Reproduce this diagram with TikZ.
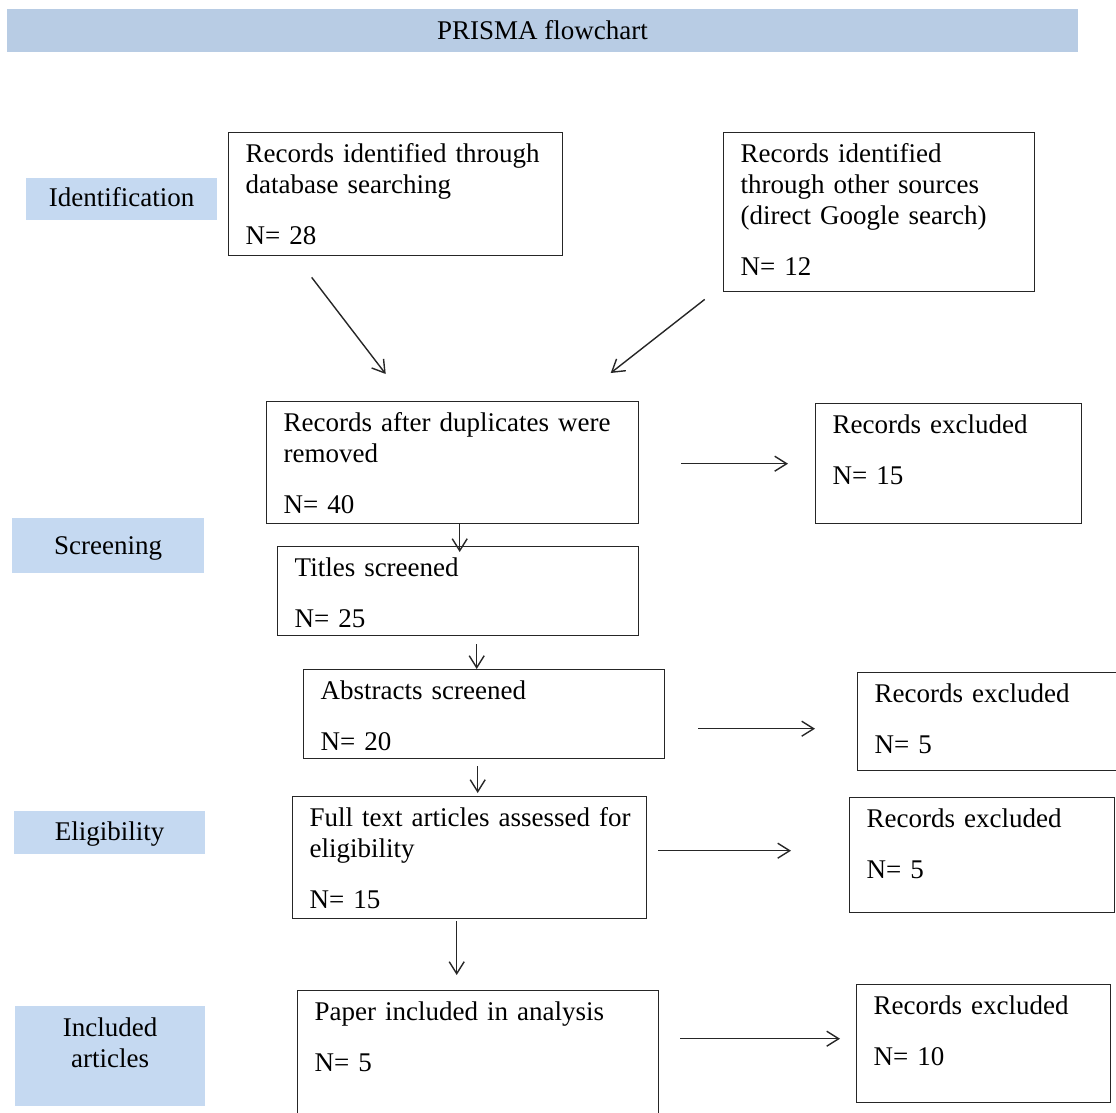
\documentclass[tikz,border=0pt]{standalone}
\usepackage{fontspec}
\setmainfont{Liberation Serif}
\usetikzlibrary{arrows.meta,calc}
\definecolor{titleblue}{RGB}{184,204,228}
\definecolor{stageblue}{RGB}{197,217,241}

\begin{document}
\begin{tikzpicture}[x=1pt, y=-1pt, >={Straight Barb[length=12pt,width=15pt]},
        every node/.style={font=\fontsize{27pt}{31pt}\selectfont},
        box/.style={draw=black!85, line width=1.4pt, anchor=north west, align=left, inner xsep=17pt, inner ysep=0pt, text height=30pt},
        stage/.style={fill=stageblue, anchor=north west, align=center, inner sep=0pt},
        arr/.style={->, line width=1.4pt, draw=black!85}]
        \useasboundingbox (0,0) rectangle (1116,1113);
        % title bar
        \node[fill=titleblue, minimum width=1071pt, minimum height=43pt, inner sep=0pt] (title) at (542.5,30.5) {PRISMA flowchart};
        % stages on the left
        \node[stage, text width=191pt, text height=28pt, text depth=14pt] (ident) at (26,178) {Identification};
        \node[stage, text width=192pt, text height=36pt, text depth=19pt] (screen) at (12,518) {Screening};
        \node[stage, text width=191pt, text height=29pt, text depth=14pt] (elig) at (14,811) {Eligibility};
        \node[stage, text width=190pt, text height=30pt, text depth=70pt] (incl) at (15,1006) {Included\\articles};
        % boxes
        \node[box, text width=300pt, text depth=93pt] (dbsearch) at (228,132) {Records identified through\\database searching\\[20pt]N= 28};
        \node[box, text width=277pt, text depth=129pt] (other) at (723,132) {Records identified\\through other sources\\(direct Google search)\\[20pt]N= 12};
        \node[box, text width=338pt, text depth=92pt] (dedup) at (266,401) {Records after duplicates were\\removed\\[20pt]N= 40};
        \node[box, text width=232pt, text depth=90pt] (excl1) at (815,403) {Records excluded\\[20pt]N= 15};
        \node[box, text width=327pt, text depth=59pt] (titles) at (277,546) {Titles screened\\[20pt]N= 25};
        \node[box, text width=327pt, text depth=59pt] (abstr) at (303,669) {Abstracts screened\\[20pt]N= 20};
        \node[box, text width=246pt, text depth=68pt] (excl2) at (857,672) {Records excluded\\[20pt]N= 5};
        \node[box, text width=320pt, text depth=92pt] (fulltext) at (292,796) {\mbox{Full text articles assessed for}\\eligibility\\[20pt]N= 15};
        \node[box, text width=231pt, text depth=85pt] (excl3) at (849,797) {Records excluded\\[20pt]N= 5};
        \node[box, text width=327pt, text depth=110pt] (included) at (297,990) {Paper included in analysis\\[20pt]N= 5};
        \node[box, text width=220pt, text depth=88pt] (excl4) at (856,984) {Records excluded\\[20pt]N= 10};
        % arrows
        \draw[arr] ($(dbsearch.south)+(-84,21)$) -- ($(dedup.north)+(-67,-27)$);
        \draw[arr] ($(other.south)+(-174.5,7)$) -- ($(dedup.north)+(158,-28)$);
        \draw[arr] ($(dedup.east)+(42,1)$) -- ($(excl1.west)+(-27,0)$);
        \draw[arr] ($(dedup.south)+(7,0)$) -- ($(titles.north)+(1.5,6)$);
        \draw[arr] ($(titles.south)+(18.5,8)$) -- ($(abstr.north)+(-7.5,0)$);
        \draw[arr] ($(abstr.east)+(33,14.5)$) -- ($(excl2.west)+(-42,7)$);
        \draw[arr] ($(abstr.south)+(-6.5,7)$) -- ($(fulltext.north)+(8,-3)$);
        \draw[arr] ($(fulltext.east)+(11,-7)$) -- ($(excl3.west)+(-58,-4.5)$);
        \draw[arr] ($(fulltext.south)+(-13,2)$) -- ($(included.north)+(-21.5,-15)$);
        \draw[arr] ($(included.east)+(21,-22)$) -- ($(excl4.west)+(-16,-5)$);
    \end{tikzpicture}
\end{document}
